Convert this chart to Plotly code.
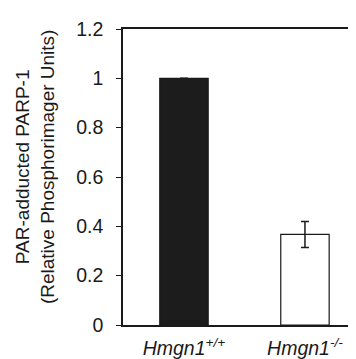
import plotly.graph_objects as go

categories = ["Hmgn1<sup>+/+</sup>", "Hmgn1<sup>-/-</sup>"]
values = [1.0, 0.367]
errors = [0.0, 0.053]
bar_colors = ["#1c1c1c", "#ffffff"]
y_tickvals = [0, 0.2, 0.4, 0.6, 0.8, 1.0, 1.2]
y_ticktext = ["0", "0.2", "0.4", "0.6", "0.8", "1", "1.2"]
y_title = "PAR-adducted PARP-1<br>(Relative Phosphorimager Units)"

fig = go.Figure()
fig.add_trace(go.Bar(
    x=[0, 1],
    y=values,
    width=0.40,
    marker=dict(color=bar_colors, line=dict(color="#1a1a1a", width=1.2)),
    error_y=dict(type="data", array=errors, visible=True, color="#1a1a1a",
                 thickness=1.5, width=4),
    showlegend=False,
))

font_family = "Arial, Liberation Sans, sans-serif"
fig.update_layout(
    width=356, height=359,
    margin=dict(l=115, r=0, t=21, b=42),
    plot_bgcolor="white", paper_bgcolor="white",
    font=dict(family=font_family, size=19, color="#1a1a1a"),
    xaxis=dict(
        range=[-0.504, 1.488],
        tickvals=[0, 1],
        ticktext=["<i>" + c + "</i>" for c in categories],
        showline=True, linecolor="#1a1a1a", linewidth=1.5, mirror=True,
        ticks="", showgrid=False, zeroline=False,
        ticklabelstandoff=5,
        tickfont=dict(size=19.5),
    ),
    yaxis=dict(
        range=[0, 1.2],
        tickvals=y_tickvals, ticktext=y_ticktext,
        showline=True, linecolor="#1a1a1a", linewidth=1.5,
        ticks="outside", ticklen=5, tickwidth=1.2, tickcolor="#1a1a1a",
        showgrid=False, zeroline=False,
        ticklabelstandoff=9,
        tickfont=dict(size=19.5),
    ),
    annotations=[dict(
        text=y_title, textangle=-90,
        xref="paper", yref="paper", x=-0.362, y=0.536,
        xanchor="center", yanchor="middle", showarrow=False,
        font=dict(size=19, family=font_family, color="#1a1a1a"),
    )],
)

fig.write_html("out.html")
